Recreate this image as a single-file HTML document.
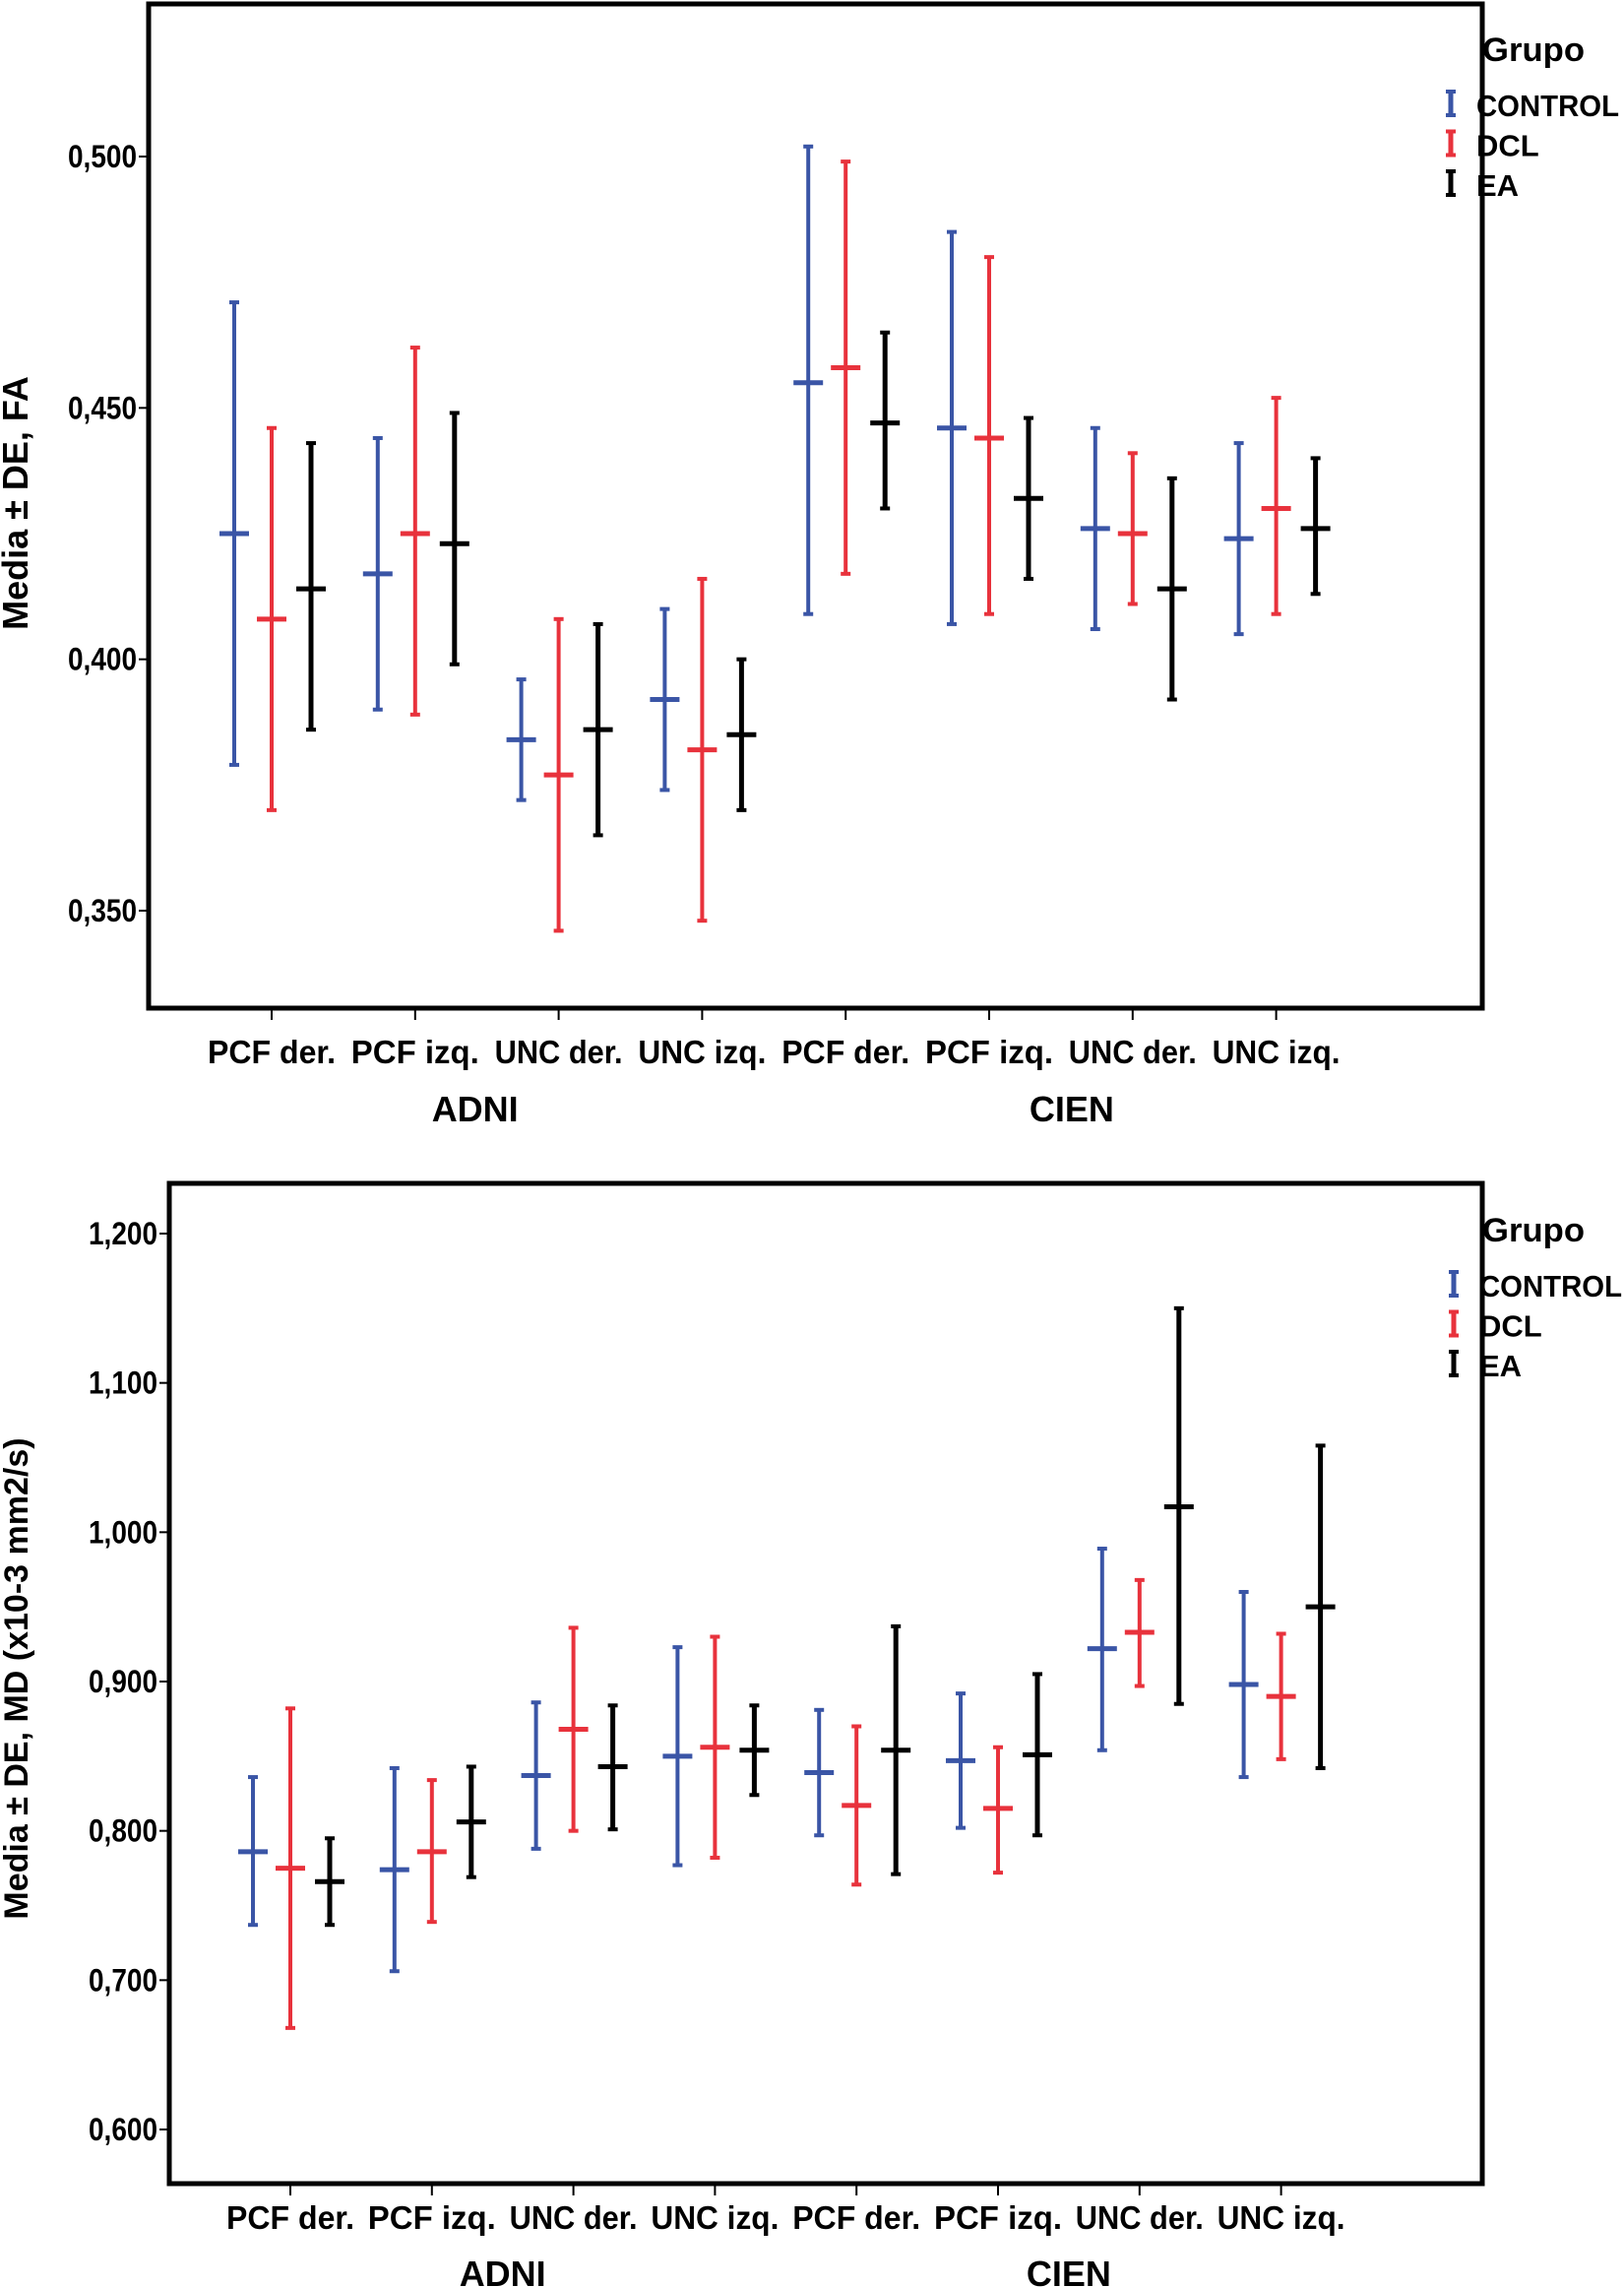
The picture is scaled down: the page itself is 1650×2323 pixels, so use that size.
<!DOCTYPE html>
<html><head><meta charset="utf-8"><style>
html,body{margin:0;padding:0;background:#fff;}
svg{display:block;font-family:"Liberation Sans Narrow","Liberation Sans",sans-serif;font-weight:bold;}
</style></head><body>
<svg id="s" width="1650" height="2323" viewBox="0 0 1650 2323"></svg>
<script>
const categories=["PCF der.","PCF izq.","UNC der.","UNC izq.","PCF der.","PCF izq.","UNC der.","UNC izq."];
const groups=["CONTROL","DCL","EA"];
const colors=["#3a55a6","#e8323c","#000000"];
// FA chart
const faMean=[[.425,.417,.384,.392,.455,.446,.426,.424],[.408,.425,.377,.382,.458,.444,.425,.430],[.414,.423,.386,.385,.447,.432,.414,.426]];
const faLo=[[.379,.390,.372,.374,.409,.407,.406,.405],[.370,.389,.346,.348,.417,.409,.411,.409],[.386,.399,.365,.370,.430,.416,.392,.413]];
const faHi=[[.471,.444,.396,.410,.502,.485,.446,.443],[.446,.462,.408,.416,.499,.480,.441,.452],[.443,.449,.407,.400,.465,.448,.436,.440]];
const faTicks=[0.35,0.40,0.45,0.50];
const faTickLabels=["0,350","0,400","0,450","0,500"];
// MD chart
const mdMean=[[.786,.774,.837,.850,.839,.847,.922,.898],[.775,.786,.868,.856,.817,.815,.933,.890],[.766,.806,.843,.854,.854,.851,1.017,.950]];
const mdLo=[[.737,.706,.788,.777,.797,.802,.854,.836],[.668,.739,.800,.782,.764,.772,.897,.848],[.737,.769,.801,.824,.771,.797,.885,.842]];
const mdHi=[[.836,.842,.886,.923,.881,.892,.989,.960],[.882,.834,.936,.930,.870,.856,.968,.932],[.795,.843,.884,.884,.937,.905,1.150,1.058]];
const mdTicks=[0.6,0.7,0.8,0.9,1.0,1.1,1.2];
const mdTickLabels=["0,600","0,700","0,800","0,900","1,000","1,100","1,200"];

const NS="http://www.w3.org/2000/svg";
const svg=document.getElementById('s');
function mk(tag,attrs,parent,text){const e=document.createElementNS(NS,tag);for(const k in attrs)e.setAttribute(k,attrs[k]);if(text!==undefined)e.textContent=text;(parent||svg).appendChild(e);return e;}

function chart(cfg){
  const g=mk('g',{});
  
  
  const y=v=>cfg.y0+(v-cfg.v0)*(cfg.y1-cfg.y0)/(cfg.v1-cfg.v0);
  const x=i=>cfg.x0+i*cfg.dx;
  const fr=mk('rect',{x:cfg.L,y:cfg.T,width:cfg.R-cfg.L,height:cfg.B-cfg.T,fill:'none',stroke:'#000','stroke-width':5},g);
  
  
  cfg.ticks.forEach((t,i)=>{
    const tk=mk('line',{x1:cfg.L-10,x2:cfg.L,y1:y(t),y2:y(t),stroke:'#000','stroke-width':2},g);
    
    
    const lb=mk('text',{x:cfg.L-12,y:y(t)+11,'text-anchor':'end','font-size':32,textLength:70,lengthAdjust:'spacingAndGlyphs'},g,cfg.labels[i]);
    
    
  });
  categories.forEach((c,i)=>{
    const tk=mk('line',{x1:x(i),x2:x(i),y1:cfg.B,y2:cfg.B+12,stroke:'#000','stroke-width':2},g);
    
    
    const lb=mk('text',{x:x(i),y:cfg.catY,'text-anchor':'middle','font-size':33,textLength:130,lengthAdjust:'spacingAndGlyphs'},g,c);
    
    
  });
  ["ADNI","CIEN"].forEach((s,k)=>{
    const lb=mk('text',{x:(x(4*k)+x(4*k+3))/2+cfg.grpOff[k],y:cfg.grpY,'text-anchor':'middle','font-size':36},g,s);
    
    
  });
  const yt=mk('text',{transform:`translate(${cfg.ytX},${cfg.ytY}) rotate(-90)`,'text-anchor':'middle','font-size':cfg.ytSize,'font-family':'Liberation Sans, sans-serif'},g,cfg.ytitle);
  
  
  const offs=[-38,0,40];
  for(let gi=0;gi<3;gi++){
    for(let i=0;i<categories.length;i++){
      const cx=x(i)+offs[gi];
      const w=gi==2?5:4;
      const eb=mk('g',{},g);
      
      
      mk('line',{x1:cx,x2:cx,y1:y(cfg.lo[gi][i]),y2:y(cfg.hi[gi][i]),stroke:colors[gi],'stroke-width':w},eb);
      mk('line',{x1:cx-5,x2:cx+5,y1:y(cfg.lo[gi][i]),y2:y(cfg.lo[gi][i]),stroke:colors[gi],'stroke-width':4},eb);
      mk('line',{x1:cx-5,x2:cx+5,y1:y(cfg.hi[gi][i]),y2:y(cfg.hi[gi][i]),stroke:colors[gi],'stroke-width':4},eb);
      mk('line',{x1:cx-15,x2:cx+15,y1:y(cfg.mean[gi][i]),y2:y(cfg.mean[gi][i]),stroke:colors[gi],'stroke-width':5},eb);
    }
  }
  const lg=mk('g',{},g);
  
  
  mk('text',{x:1558,y:cfg.legY,'text-anchor':'middle','font-size':34,textLength:104,lengthAdjust:'spacingAndGlyphs'},lg,'Grupo');
  groups.forEach((n,gi)=>{
    const ly=cfg.legY+55+gi*40.5;
    const en=mk('g',{},lg);
    
    
    mk('line',{x1:cfg.legX,x2:cfg.legX,y1:ly-24,y2:ly,stroke:colors[gi],'stroke-width':5},en);
    mk('line',{x1:cfg.legX-5,x2:cfg.legX+5,y1:ly-24,y2:ly-24,stroke:colors[gi],'stroke-width':4},en);
    mk('line',{x1:cfg.legX-5,x2:cfg.legX+5,y1:ly,y2:ly,stroke:colors[gi],'stroke-width':4},en);
    const t=mk('text',{x:cfg.legX+26,y:ly+1,'font-size':31},en,n);
    if(n==='CONTROL'){t.setAttribute('textLength',145);t.setAttribute('lengthAdjust','spacingAndGlyphs');}
  });
}
chart({name:'fa-chart',L:151,T:4,R:1506,B:1024,v0:0.35,v1:0.50,y0:925,y1:159,x0:276,dx:145.8,
  ticks:faTicks,labels:faTickLabels,mean:faMean,lo:faLo,hi:faHi,catY:1080,grpY:1139,grpOff:[-12,11],
  ytitle:'Media ± DE, FA',ytSize:36,ytX:28,ytY:511,legY:62,legX:1474});
chart({name:'md-chart',L:172,T:1202,R:1506,B:2218,v0:0.6,v1:1.2,y0:2163,y1:1253,x0:295,dx:143.8,
  ticks:mdTicks,labels:mdTickLabels,mean:mdMean,lo:mdLo,hi:mdHi,catY:2264,grpY:2322,grpOff:[0,0],
  ytitle:'Media ± DE, MD (x10-3 mm2/s)',ytSize:34,ytX:28,ytY:1705,legY:1261,legX:1477});
</script>
</body></html>
